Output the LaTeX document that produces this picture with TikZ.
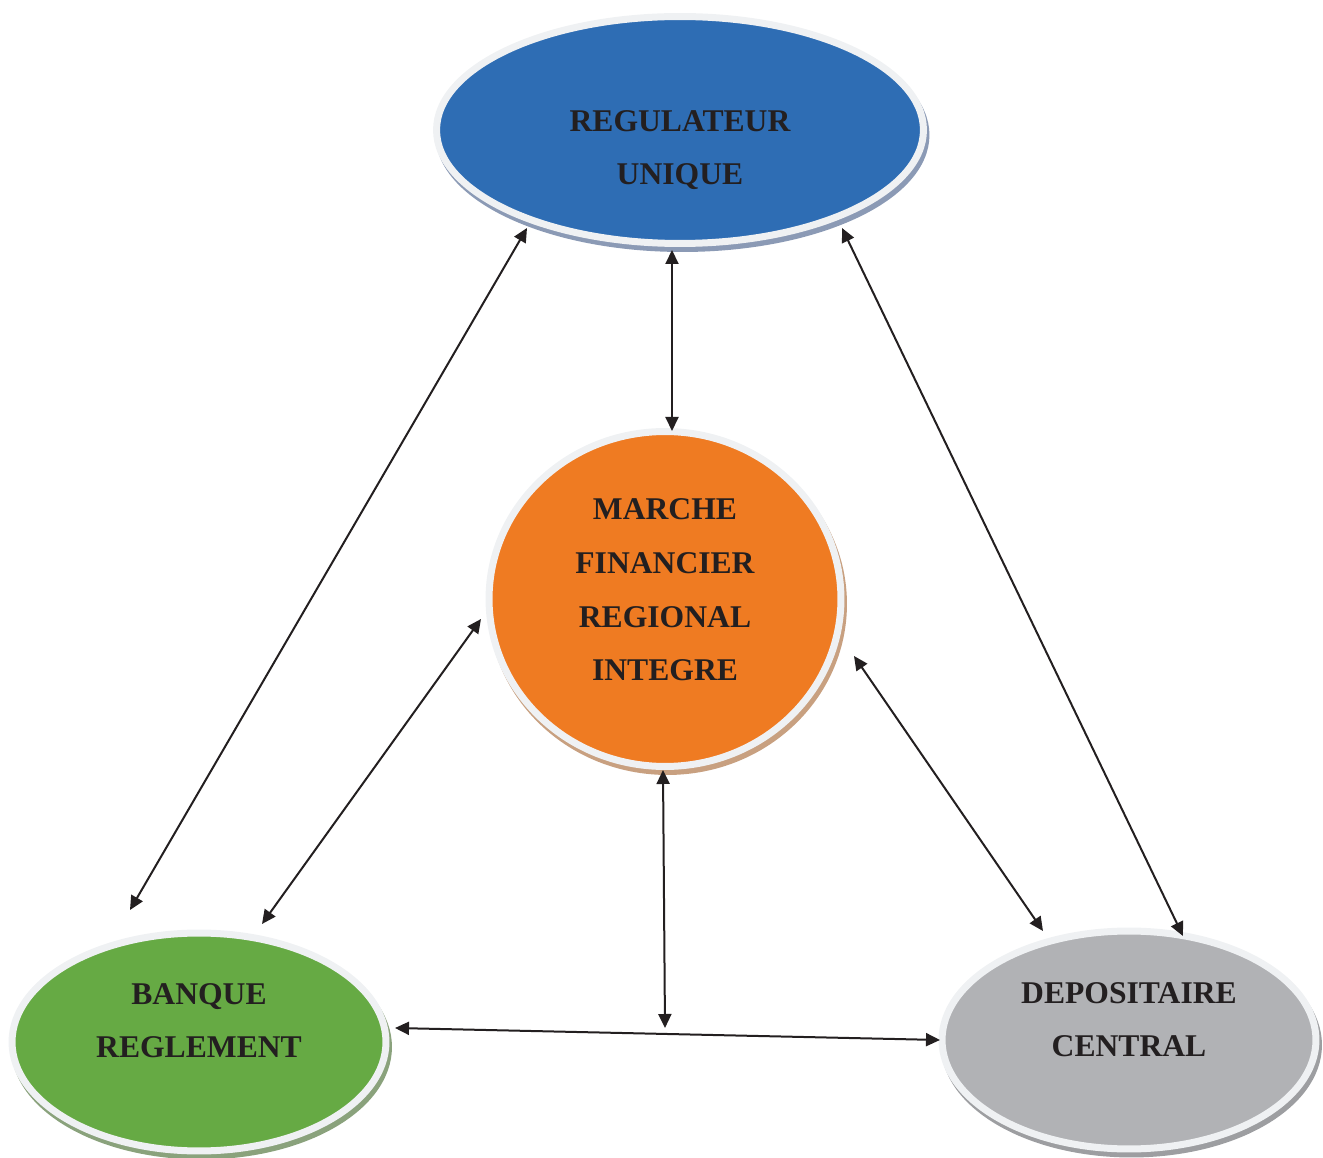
\documentclass[tikz,border=0pt]{standalone}
\usepackage{fontspec}
\setmainfont{Liberation Serif}
\usepackage{tikz}
\usetikzlibrary{arrows.meta, shapes.geometric, shadows, calc}
\definecolor{regcolor}{RGB}{46,109,180}
\definecolor{regshadow}{RGB}{139,154,181}
\definecolor{mfrcolor}{RGB}{239,123,34}
\definecolor{mfrshadow}{RGB}{200,160,128}
\definecolor{bqcolor}{RGB}{102,170,68}
\definecolor{bqshadow}{RGB}{138,162,124}
\definecolor{depcolor}{RGB}{177,178,181}
\definecolor{depshadow}{RGB}{157,158,161}
\definecolor{ringcolor}{RGB}{239,241,243}
\definecolor{textcolor}{RGB}{35,31,32}

\begin{document}
\begin{tikzpicture}[x=0.02cm, y=-0.02cm,
    bubble/.style={ellipse, draw=ringcolor, line width=0.14cm, inner sep=0pt},
    shade/.style={drop shadow={shadow xshift=0.05cm, shadow yshift=-0.1cm, fill=#1, draw=#1, line width=0.14cm, opacity=1}},
    lbl/.style={font=\bfseries\fontsize{18}{30.5}\selectfont, text=textcolor, align=center},
    arrow/.style={{Triangle[length=0.28cm, width=0.26cm]}-{Triangle[length=0.28cm, width=0.26cm]}, line width=0.04cm, draw=textcolor}
]
    \useasboundingbox (0,0) rectangle (1323,1158);

    % === REGULATEUR UNIQUE ===
    \node[bubble, shade=regshadow, fill=regcolor, minimum width=9.74cm, minimum height=4.54cm,
        label={[lbl, yshift=-0.40cm]center:{REGULATEUR\\UNIQUE}}] (reg) at (680,130) {};

    % === MARCHE FINANCIER ===
    \node[bubble, shade=mfrshadow, fill=mfrcolor, minimum width=7.04cm, minimum height=6.70cm,
        label={[lbl, yshift=0.18cm]center:{MARCHE\\FINANCIER\\REGIONAL\\INTEGRE}}] (mfr) at (665,599) {};

    % === BANQUE REGLEMENT ===
    \node[bubble, shade=bqshadow, fill=bqcolor, minimum width=7.48cm, minimum height=4.36cm,
        label={[lbl, yshift=0.43cm]center:{BANQUE\\REGLEMENT}}] (bq) at (199,1042) {};

    % === DEPOSITAIRE CENTRAL ===
    \node[bubble, shade=depshadow, fill=depcolor, minimum width=7.48cm, minimum height=4.36cm,
        label={[lbl, yshift=0.41cm]center:{DEPOSITAIRE\\CENTRAL}}] (dep) at (1129,1040) {};

    % === FLECHES ===
    \coordinate (meet) at (665,1028);
    \draw[arrow] ($(reg)+(-8,120)$) -- ($(mfr)+(7,-168)$);
    \draw[arrow] ($(reg)+(-153,98)$) -- ($(bq)+(-69,-132)$);
    \draw[arrow] ($(reg)+(162,98)$) -- ($(dep)+(54,-104)$);
    \draw[arrow] ($(mfr)+(-184,20)$) -- ($(bq)+(63,-118)$);
    \draw[arrow] ($(mfr)+(189,57)$) -- ($(dep)+(-86,-109)$);
    \draw[arrow] ($(mfr)+(-2,171)$) -- (meet);
    \draw[arrow] ($(bq)+(196,-14)$) -- ($(dep)+(-189,0)$);

\end{tikzpicture}
\end{document}
